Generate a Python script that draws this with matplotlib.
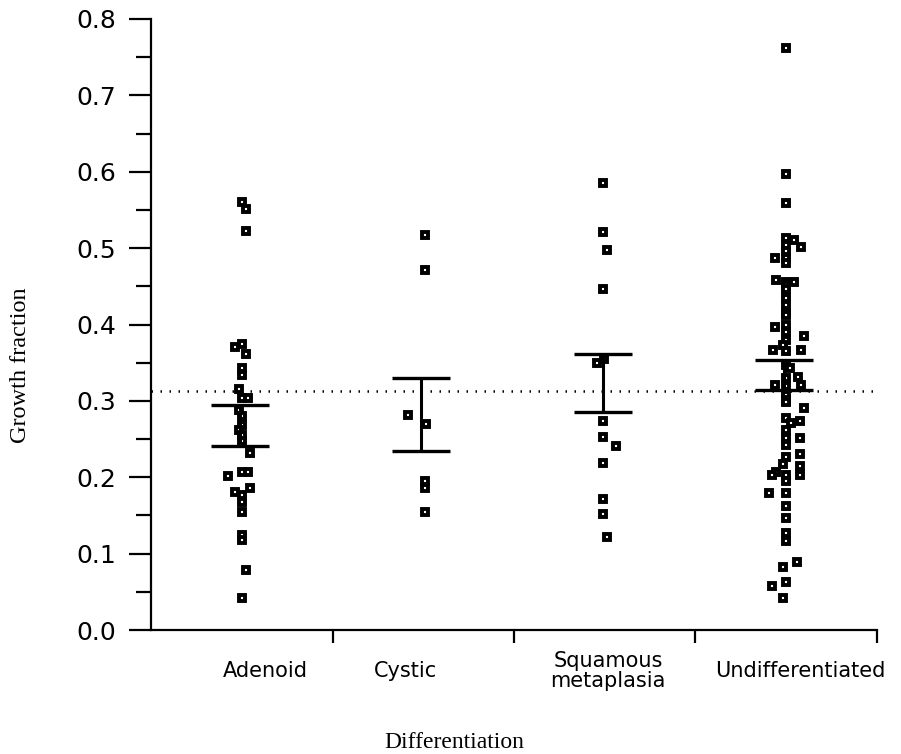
import numpy as np
import matplotlib
matplotlib.use("Agg")
import matplotlib.pyplot as plt
from matplotlib.transforms import blended_transform_factory

categories = ["Adenoid", "Cystic", "Squamous\nmetaplasia", "Undifferentiated"]

adenoid = [0.561, 0.551, 0.522, 0.375, 0.371, 0.362, 0.343, 0.334, 0.316, 0.304,
           0.304, 0.288, 0.280, 0.268, 0.262, 0.255, 0.247, 0.232, 0.207, 0.207,
           0.202, 0.186, 0.181, 0.177, 0.168, 0.155, 0.124, 0.118, 0.079, 0.042]
adenoid_jit = [0, 4, 4, 0, -7, 4, 0, 0, -3, 0,
               6, -3, 0, 0, -3, 0, 0, 8, 0, 6,
               -14, 8, -7, 0, 0, 0, 0, 0, 4, 0]

cystic = [0.517, 0.471, 0.282, 0.270, 0.195, 0.1855, 0.155]
cystic_jit = [2, 2, -15, 3, 2, 2, 2]

squamous = [0.585, 0.5215, 0.4975, 0.446, 0.3545, 0.350, 0.2736, 0.253, 0.241,
            0.219, 0.172, 0.1515, 0.122]
squamous_jit = [-2, -2, 2, -2, -1, -8, -2, -2, 11, -2, -2, -2, 2]

undiff = [0.7615, 0.597, 0.5595, 0.513, 0.510, 0.504, 0.501, 0.496, 0.4875, 0.4875,
          0.480, 0.458, 0.455, 0.455, 0.452, 0.447, 0.435, 0.4255, 0.4147, 0.412,
          0.400, 0.397, 0.390, 0.385, 0.380, 0.373, 0.3666, 0.3666, 0.365, 0.347,
          0.343, 0.3317, 0.330, 0.3208, 0.3208, 0.320, 0.308, 0.301, 0.298, 0.291,
          0.277, 0.2737, 0.2705, 0.262, 0.252, 0.252, 0.242, 0.2304, 0.226, 0.218,
          0.2147, 0.207, 0.203, 0.203, 0.203, 0.195, 0.1798, 0.1798, 0.1628, 0.146,
          0.1266, 0.117, 0.0886, 0.083, 0.0633, 0.058, 0.0415]
undiff_jit = [0, 0, 0, 0, 8, 0, 15, 0, 0, -11,
              0, -10, 0, 8, 0, 0, 0, 0, 0, 0,
              0, -11, 0, 18, 0, -3, -13, 15, 0, 0,
              4, 12, 0, -11, 15, 0, 0, 0, 0, 18,
              0, 14, 5, 0, 0, 14, 0, 14, 0, -3,
              14, -10, -14, 14, 0, 0, -17, 0, 0, 0,
              0, 0, 11, -3, 0, -14, -3]

means = [0.2675, 0.282, 0.3235, 0.334]
sems = [0.0265, 0.0474, 0.0385, 0.0198]
reference_line = 0.313

yticks = [0.0, 0.1, 0.2, 0.3, 0.4, 0.5, 0.6, 0.7, 0.8]
label_pos = [0.628, 1.40, 2.518, 3.58]

fig = plt.figure(figsize=(9.01, 7.54), dpi=100)
ax = fig.add_axes([151 / 901, 124 / 754, 726 / 901, 611 / 754])

groups = [adenoid, cystic, squamous, undiff]
jits = [adenoid_jit, cystic_jit, squamous_jit, undiff_jit]
px_per_unit = 181.5
for i, (vals, jit) in enumerate(zip(groups, jits)):
    x = (i + 0.5) + np.array(jit) / px_per_unit
    ax.plot(x, vals, linestyle="none", marker="s", markersize=4.0,
            markerfacecolor="white", markeredgecolor="black",
            markeredgewidth=2.8, zorder=3)

for i, (m, s) in enumerate(zip(means, sems)):
    c = i + 0.5 - 0.01
    ax.vlines(c, m - s, m + s, color="black", lw=2.2, zorder=4)
    ax.hlines([m - s, m + s], c - 0.16, c + 0.16, color="black", lw=2.4, zorder=4)

ax.axhline(reference_line, color="black", lw=1.8, linestyle=(0, (0.6, 3.0)),
           zorder=2)

ax.set_xlim(0, 4)
ax.set_ylim(0, 0.8)
for sp in ["top", "right"]:
    ax.spines[sp].set_visible(False)
for sp in ["left", "bottom"]:
    ax.spines[sp].set_linewidth(1.6)

ax.set_yticks(yticks)
ax.set_yticklabels([f"{v:.1f}" for v in yticks], fontsize=18,
                   family="DejaVu Sans")
ax.set_yticks(np.arange(0.05, 0.8, 0.1), minor=True)
ax.tick_params(axis="y", which="major", direction="out", length=16, width=1.6,
               pad=9)
ax.tick_params(axis="y", which="minor", direction="out", length=11, width=1.6)

ax.set_xticks([1, 2, 3, 4])
ax.set_xticklabels([])
ax.tick_params(axis="x", which="major", direction="out", length=9, width=1.6)

trans = blended_transform_factory(ax.transData, ax.transAxes)
for xp, lab in zip(label_pos, categories):
    ax.text(xp, -0.067, lab, transform=trans, ha="center", va="center",
            fontsize=15, family="DejaVu Sans", linespacing=1.05)

fig.text(454 / 901, 1 - 743 / 754, "Differentiation", ha="center", va="center",
         fontsize=17, family="Liberation Serif")
fig.text(21 / 901, 1 - 365 / 754, "Growth fraction", ha="center", va="center",
         rotation=90, fontsize=17.5, family="Liberation Serif")

fig.savefig("out.png", dpi=100)
